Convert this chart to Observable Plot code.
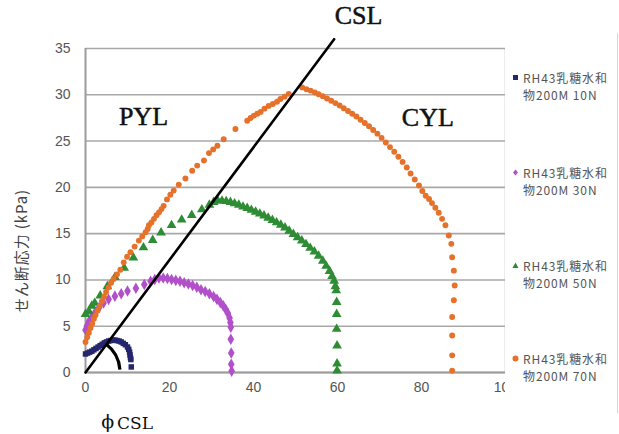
<!DOCTYPE html>
<html><head><meta charset="utf-8">
<script src="https://cdn.jsdelivr.net/npm/d3@7"></script>
<script src="https://cdn.jsdelivr.net/npm/@observablehq/plot@0.6"></script>
<style>
body{margin:0;background:#fff;}
#wrap{position:relative;width:619px;height:434px;overflow:hidden;background:#fff;}
#legend{position:absolute;left:505px;top:33px;width:112px;height:380px;background:#fff;border-right:1px solid #d6d6d6;}
.item{position:absolute;left:18px;font-family:"Noto Sans CJK JP","Liberation Sans",sans-serif;font-size:12px;line-height:17px;color:#555;letter-spacing:0.9px;white-space:nowrap;}
.item div{height:17px;line-height:17px;}
.mk{position:absolute;left:-11px;top:5px;}
.mk svg{display:block;}
#ylab{position:absolute;left:20px;top:251px;transform:translate(-50%,-50%) rotate(-90deg);font-family:"Noto Sans CJK JP",sans-serif;font-size:15px;color:#444;white-space:nowrap;letter-spacing:0.9px;}
</style></head><body><div id="wrap"></div>
<script>
// ---- data ----
const seriesLine1 = ["RH43乳糖水和","RH43乳糖水和","RH43乳糖水和","RH43乳糖水和"];
const seriesLine2 = ["物200M 10N","物200M 30N","物200M 50N","物200M 70N"];
const seriesColors = ["#26266e","#b24fca","#2e8c35","#e5712b"];
const xTicks = [0,20,40,60,80,100];
const yTicks = [0,5,10,15,20,25,30,35];
const yLabel = "せん断応力 (kPa)";

const s10N = [[0,2.0],[0.5,2.1],[1,2.2],[1.5,2.3],[2,2.45],[2.5,2.6],[3,2.75],[3.5,2.9],[4,3.05],[4.5,3.2],[5,3.3],[5.5,3.4],[6,3.45],[6.5,3.5],[7,3.5],[7.5,3.45],[8,3.4],[8.5,3.3],[9,3.15],[9.5,3.0],[10,2.75],[10.3,2.5],[10.5,2.2],[10.6,1.9],[10.7,1.6],[10.8,1.4],[10.9,0.6]];
const s30N = [[0,4.6],[0.3,5.0],[0.8,5.5],[1.5,6.0],[2.3,6.5],[3.2,7.0],[4.3,7.5],[5.5,7.9],[7,8.25],[8.5,8.5],[10,8.8],[12,9.1],[14,9.5],[15.5,9.85],[16.5,10.05],[17.5,10.2],[18.5,10.2],[19.5,10.15],[20.5,10.05],[21.5,9.95],[22.5,9.85],[23.5,9.7],[24.5,9.55],[25.5,9.4],[26.5,9.2],[27.5,8.95],[28.5,8.75],[29.5,8.5],[30.5,8.2],[31.3,7.9],[32.1,7.55],[32.8,7.2],[33.4,6.8],[33.9,6.4],[34.3,5.9],[34.5,5.4],[34.6,4.9],[34.6,3.6],[34.7,2.1],[34.7,0.9],[34.8,0.15]];
const s50N = [[0,6.3],[0.8,6.6],[1.5,7.2],[2.2,7.5],[3.5,8.3],[5.2,9.3],[7,10.3],[9.2,11.3],[11.4,12.4],[13.8,13.5],[16,14.3],[18,15.1],[20.5,15.9],[22.9,16.5],[25.3,17.0],[27.7,17.6],[29.5,18.1],[30.5,18.4],[31.5,18.55],[32.5,18.55],[33.5,18.5],[34.5,18.4],[35.5,18.25],[36.5,18.1],[37.5,17.9],[38.5,17.75],[39.5,17.55],[40.5,17.35],[41.5,17.15],[42.5,16.95],[43.5,16.7],[44.5,16.45],[45.5,16.2],[46.5,15.95],[47.5,15.65],[48.5,15.3],[49.5,14.95],[50.5,14.6],[51.5,14.25],[52.5,13.85],[53.5,13.45],[54.5,13.05],[55.5,12.6],[56.5,12.05],[57.3,11.5],[58.1,10.95],[58.7,10.4],[59.2,9.9],[59.5,9.3],[59.7,8.85],[59.8,7.6],[59.8,6.3],[59.8,4.7],[59.9,2.9],[59.9,0.95],[59.9,0.2]];
const s70N = [[0,3.3],[0.4,3.8],[0.8,4.3],[1.2,4.8],[1.6,5.3],[2.0,5.8],[2.4,6.2],[2.9,6.7],[3.4,7.2],[3.9,7.7],[4.4,8.2],[4.9,8.7],[5.5,9.2],[6.1,9.7],[6.7,10.1],[7.5,10.6],[8.3,11.1],[9.1,11.9],[9.9,12.5],[10.7,13.0],[11.7,13.6],[12.7,14.25],[13.5,14.7],[14.3,15.15],[14.8,15.5],[15.1,15.9],[15.7,16.2],[16.3,16.6],[16.9,17.0],[17.5,17.3],[18.1,17.65],[18.6,18.0],[19.4,18.7],[20.2,19.2],[21,19.65],[22.2,20.3],[23.8,20.95],[25.4,21.8],[26.6,22.35],[28.2,22.9],[29.4,23.7],[30.4,24.1],[31.4,24.5],[32.9,25.2],[35.7,26.3],[38.5,27.2],[39.3,27.5],[40.1,27.75],[40.9,27.95],[41.7,28.15],[42.6,28.5],[43.6,28.8],[44.6,29.0],[45.6,29.25],[46.4,29.55],[47.4,29.8],[48.4,30.1],[51.6,30.8],[52.6,30.6],[53.6,30.45],[54.6,30.25],[55.5,30.05],[56.5,29.85],[57.5,29.6],[58.5,29.35],[59.5,29.1],[60.5,28.85],[61.5,28.55],[62.5,28.25],[63.5,27.95],[64.5,27.65],[65.5,27.3],[66.5,26.95],[67.5,26.6],[68.5,26.2],[69.5,25.8],[70.5,25.35],[71.5,24.85],[72.5,24.35],[73.5,23.85],[74.5,23.3],[75.5,22.75],[76.5,22.15],[77.4,21.5],[78.4,20.85],[79.4,20.2],[80.2,19.6],[81.0,19.1],[81.8,18.75],[82.5,18.3],[83.3,17.8],[84.1,17.25],[84.9,16.6],[85.7,15.9],[86.5,14.8],[87.1,13.9],[87.3,12.45],[87.7,11.0],[87.9,9.4],[87.7,7.8],[87.3,6.0],[87.3,4.0],[87.3,1.85],[87.3,0.2]];

const cslLine = [[0,0],[59.2,36]];
const arcRadiusPx = 35, arcEndDeg = 4;
const regionLabels = [{x:13.8,y:27.65,t:"PYL"},{x:81.5,y:27.5,t:"CYL"},{x:65,y:38.5,t:"CSL"}];
const phiLabels = [{x:5.3,y:-5.3,t:"ϕ",size:19},{x:11.8,y:-5.5,t:"CSL",size:17}];

// ---- chart ----
const toRows = a => a.map(([x,y]) => ({x,y}));
const symbols = ["square","diamond","triangle","circle"];
const radii = [3.1,3.5,3.6,2.95];
const allSeries = [s10N,s30N,s50N,s70N];

function arcMark(index, scales) {
  const cx = scales.x(0), cy = scales.y(0);
  const ex = scales.x(cslLine[1][0]) - cx, ey = scales.y(cslLine[1][1]) - cy;
  const a0 = Math.atan2(ey, ex);
  const p = d3.path();
  p.arc(cx, cy, arcRadiusPx, a0, -arcEndDeg*Math.PI/180, false);
  const el = document.createElementNS("http://www.w3.org/2000/svg","path");
  el.setAttribute("d", p.toString());
  el.setAttribute("fill","none");
  el.setAttribute("stroke","#000");
  el.setAttribute("stroke-width","3.2");
  return el;
}

const plot = Plot.plot({
  width:619, height:434, marginLeft:85, marginRight:114, marginTop:48, marginBottom:62,
  x:{domain:[0,100]}, y:{domain:[0,35]},
  style:{fontFamily:"'Liberation Sans', Arial, sans-serif", background:"transparent", overflow:"visible"},
  marks:[
    Plot.gridY({ticks:yTicks, stroke:"#a8a8a8", strokeOpacity:1, strokeWidth:1.6}),
    Plot.ruleX([100], {stroke:"#b3b3b3", strokeWidth:1.5}),
    Plot.ruleX([0], {stroke:"#9c9c9c", strokeWidth:2}),
    Plot.ruleY([0], {stroke:"#9c9c9c", strokeWidth:2}),
    Plot.axisX({ticks:xTicks, tickSize:0, tickPadding:10, fontSize:14, fill:"#555", label:null}),
    Plot.axisY({ticks:yTicks, tickSize:0, tickPadding:15, fontSize:14, fill:"#555", label:null}),
    ...allSeries.map((s,i) => Plot.dot(toRows(s), {x:"x", y:"y", symbol:symbols[i], r:radii[i], fill:seriesColors[i], stroke:null})),
    Plot.line(toRows(cslLine), {x:"x", y:"y", stroke:"#000", strokeWidth:2.6}),
    arcMark,
    Plot.text(regionLabels, {x:"x", y:"y", text:"t", fontFamily:"'Liberation Serif', serif", fontSize:26, fill:"#111", stroke:"#111", strokeWidth:0.5, lineAnchor:"middle"}),
    Plot.text(phiLabels, {x:"x", y:"y", text:"t", fontFamily:"'DejaVu Serif','Liberation Serif', serif", fontSize:d=>d.size, fill:"#111", lineAnchor:"middle"})
  ]
});

const wrap = document.getElementById("wrap");
wrap.appendChild(plot);

const yl = document.createElement("div");
yl.id = "ylab"; yl.textContent = yLabel;
wrap.appendChild(yl);

const legend = document.createElement("div");
legend.id = "legend";
wrap.appendChild(legend);
const itemTops = [36, 131, 224, 317];
const mkSvg = [
  c => `<svg width="7" height="7"><rect x="1" y="1" width="5" height="5" fill="${c}"/></svg>`,
  c => `<svg width="7" height="7"><path d="M3.5 0.5 L6 3.5 L3.5 6.5 L1 3.5Z" fill="${c}"/></svg>`,
  c => `<svg width="7" height="7"><path d="M3.5 0.5 L6.5 6 L0.5 6Z" fill="${c}"/></svg>`,
  c => `<svg width="7" height="7"><circle cx="3.5" cy="3.5" r="3" fill="${c}"/></svg>`
];
seriesLine1.forEach((l1,i) => {
  const d = document.createElement("div");
  d.className = "item";
  d.style.top = itemTops[i] + "px";
  d.innerHTML = `<span class="mk">${mkSvg[i](seriesColors[i])}</span><div>${l1}</div><div>${seriesLine2[i]}</div>`;
  legend.appendChild(d);
});
</script></body></html>
